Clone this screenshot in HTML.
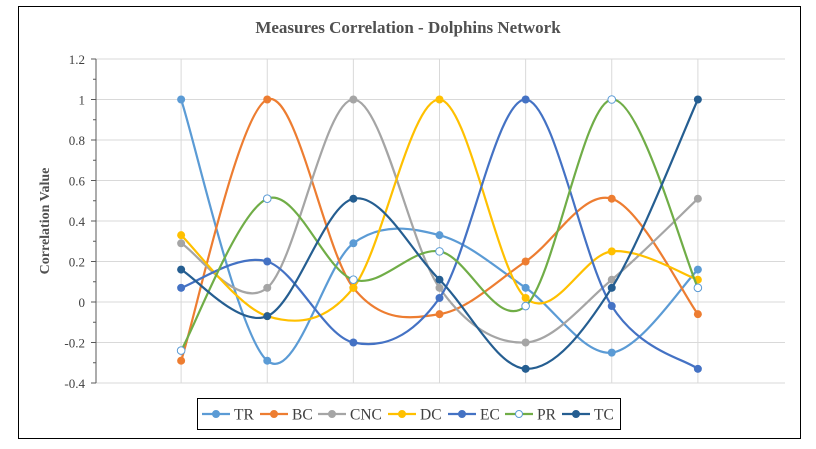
<!DOCTYPE html>
<html><head><meta charset="utf-8"><style>
html,body{margin:0;padding:0;background:#fff;}
svg{display:block;font-family:"Liberation Serif",serif;}
</style></head><body>
<svg id="chart" width="816" height="449">
<rect x="18.5" y="6.5" width="782" height="432" fill="#fff" stroke="#000"/>
<text x="408" y="33" text-anchor="middle" font-size="17" font-weight="bold" fill="#505050">Measures Correlation - Dolphins Network</text>
<text transform="translate(49,221) rotate(-90)" text-anchor="middle" font-size="14" font-weight="bold" fill="#505050">Correlation Value</text>
<g id="grid"></g><g id="axis"></g><g id="series"></g>
<g id="legend"></g>
</svg>
<script>
const categories=["1","2","3","4","5","6","7"];
const seriesNames=["TR","BC","CNC","DC","EC","PR","TC"];
const TR=[1,-0.29,0.29,0.33,0.07,-0.25,0.16];
const BC=[-0.29,1,0.07,-0.06,0.2,0.51,-0.06];
const CNC=[0.29,0.07,1,0.07,-0.2,0.11,0.51];
const DC=[0.33,-0.07,0.07,1,0.02,0.25,0.11];
const EC=[0.07,0.2,-0.2,0.02,1,-0.02,-0.33];
const PR=[-0.24,0.51,0.11,0.25,-0.02,1,0.07];
const TC=[0.16,-0.07,0.51,0.11,-0.33,0.07,1];
const yTicks=[-0.4,-0.2,0,0.2,0.4,0.6,0.8,1,1.2];
const yTickLabels=["-0.4","-0.2","0","0.2","0.4","0.6","0.8","1","1.2"];
const colors=["#5b9bd5","#ed7d31","#a5a5a5","#ffc000","#4472c4","#70ad47","#255e91"];
const allSeries=[TR,BC,CNC,DC,EC,PR,TC];
const NS="http://www.w3.org/2000/svg";
const L=96,R=785,T=59,B=383;
const x=i=>L+(R-L)/(categories.length+1)*(i+1)-1;
const y=v=>B-(v-(-0.4))/1.6*(B-T);
function mk(tag,attrs,parent){const e=document.createElementNS(NS,tag);for(const k in attrs)e.setAttribute(k,attrs[k]);parent.appendChild(e);return e;}
const grid=document.getElementById('grid'),axis=document.getElementById('axis'),ser=document.getElementById('series'),leg=document.getElementById('legend');
yTicks.forEach((t,i)=>{
 const g=mk('line',{x1:L,x2:R,y1:y(t),y2:y(t),stroke:'#d9d9d9'},grid);
 
 
 const tx=mk('text',{x:L-11,y:y(t)+5,'text-anchor':'end','font-size':'13',fill:'#404040'},axis);
 tx.textContent=yTickLabels[i];
 
 
 const tk=mk('line',{x1:L-5,x2:L,y1:y(t),y2:y(t),stroke:'#595959'},axis);
 
 
});
for(let k=0;k<yTicks.length-1;k++){const m=(yTicks[k]+yTicks[k+1])/2;const mt=mk('line',{x1:L-3,x2:L,y1:y(m),y2:y(m),stroke:'#595959'},axis);}
categories.forEach((c,i)=>{const g=mk('line',{x1:x(i),x2:x(i),y1:T,y2:B,stroke:'#d9d9d9'},grid);});
const ya=mk('line',{x1:L,x2:L,y1:T,y2:B,stroke:'#595959'},axis);


function smooth(pts){let d=`M${pts[0][0]},${pts[0][1]}`;for(let i=0;i<pts.length-1;i++){const p0=pts[i-1]||pts[i],p1=pts[i],p2=pts[i+1],p3=pts[i+2]||p2;const c1=[p1[0]+(p2[0]-p0[0])/6,p1[1]+(p2[1]-p0[1])/6],c2=[p2[0]-(p3[0]-p1[0])/6,p2[1]-(p3[1]-p1[1])/6];d+=` C${c1[0]},${c1[1]} ${c2[0]},${c2[1]} ${p2[0]},${p2[1]}`;}return d;}
allSeries.forEach((s,k)=>{
 const g=mk('g',{},ser);
 
 
 const pts=s.map((v,i)=>[x(i),y(v)]);
 const p=mk('path',{d:smooth(pts),fill:'none',stroke:colors[k],'stroke-width':'2.2'},g);
 
 
 pts.forEach(q=>{const hollow=seriesNames[k]==='PR';const c=mk('circle',{cx:q[0],cy:q[1],r:hollow?3.8:4,fill:hollow?'#fff':colors[k],stroke:hollow?'#5b9bd5':colors[k],'stroke-width':hollow?1:0},g);
 
 });
});
const lb=mk('rect',{x:197.5,y:398.5,width:423,height:31,fill:'#fff',stroke:'#000'},leg);


const legX=[202,260,318,388,448,505,562];
seriesNames.forEach((n,k)=>{
 const g=mk('g',{},leg);
 
 
 const lx=legX[k];
 mk('line',{x1:lx,x2:lx+28,y1:414,y2:414,stroke:colors[k],'stroke-width':'2.2'},g);
 const hollow=n==='PR';
 mk('circle',{cx:lx+14,cy:414,r:3.5,fill:hollow?'#fff':colors[k],stroke:hollow?'#5b9bd5':colors[k],'stroke-width':1},g);
 const t=mk('text',{x:lx+32,y:419.5,'font-size':'15.5',fill:'#404040'},g);t.textContent=n;
});
</script>
</body></html>
